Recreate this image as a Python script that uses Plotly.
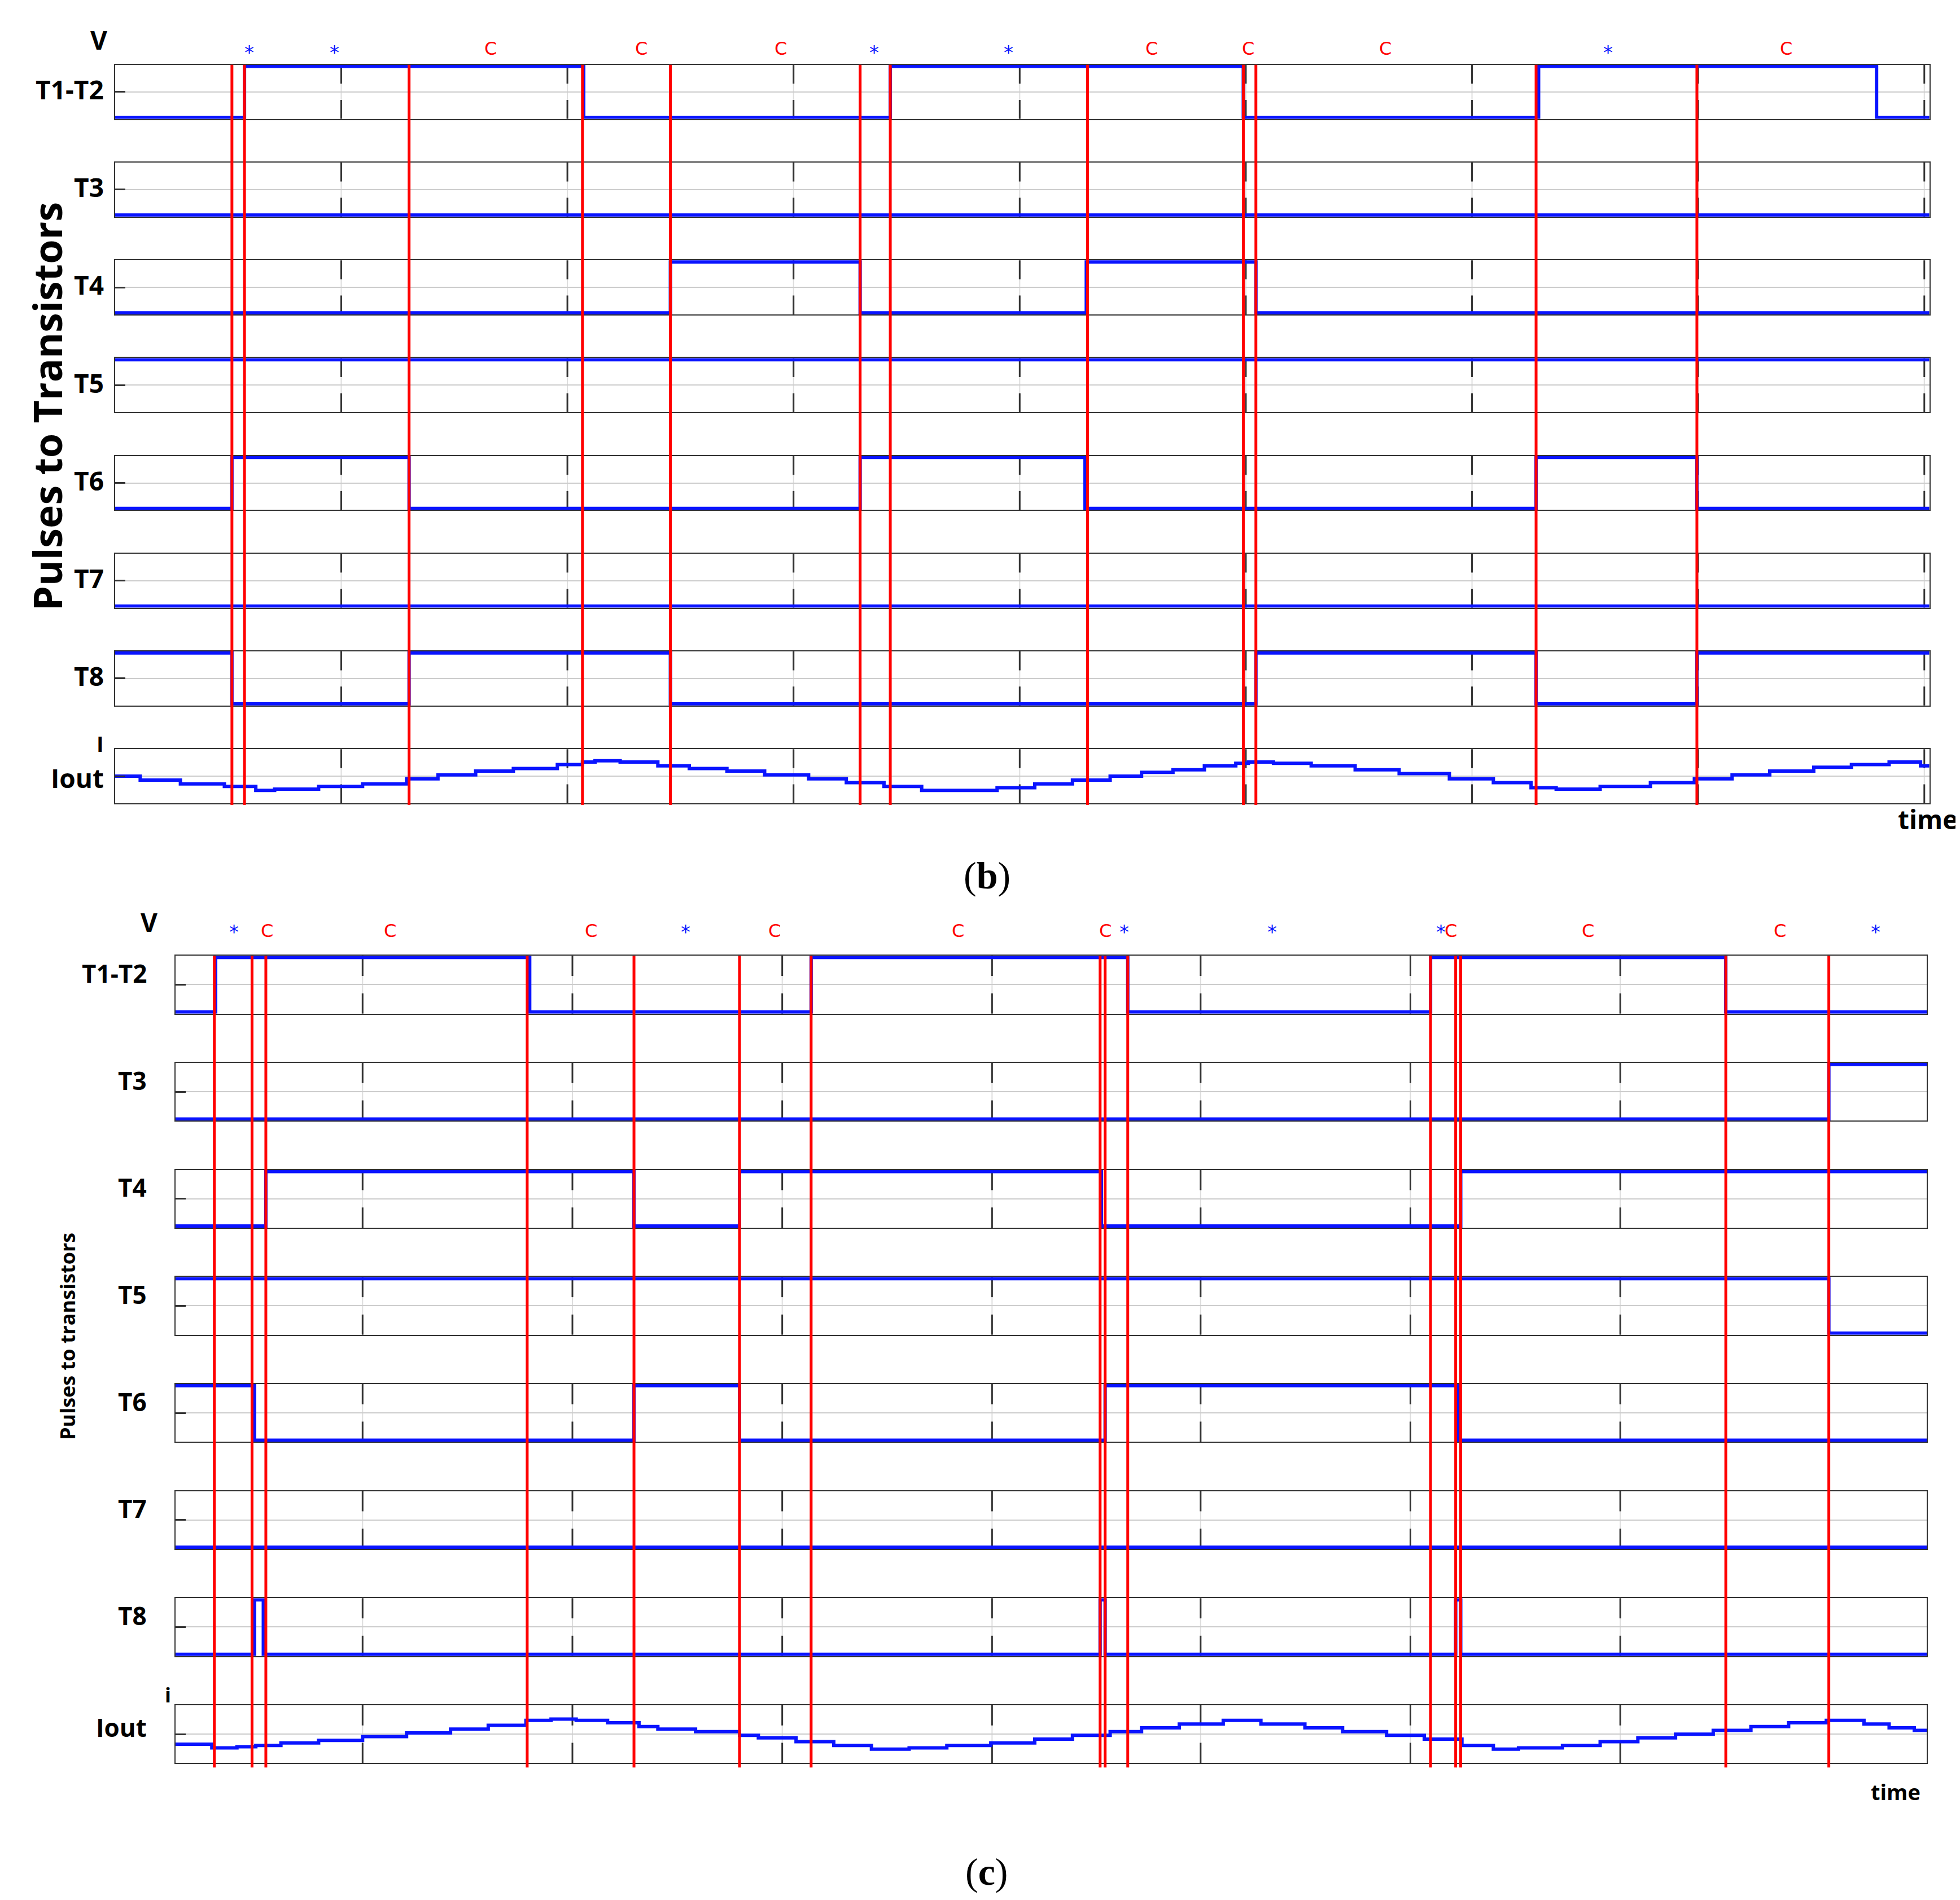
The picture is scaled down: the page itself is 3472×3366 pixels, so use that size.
import plotly.graph_objects as go

# ---- data (time in screen-like units) ----
rows = ["T1-T2", "T3", "T4", "T5", "T6", "T7", "T8"]

# panel (b)
b_start, b_end = 88, 1532
b_init = [0, 0, 0, 1, 0, 0, 1]
b_switch = [
    [191, 461, 705, 986, 1221, 1490],
    [],
    [530, 681, 861, 996],
    [],
    [181, 322, 681, 860, 1219, 1347],
    [],
    [181, 322, 530, 996, 1219, 1347],
]
b_iout_t = [88, 108, 140, 175, 200, 215, 250, 285, 320, 345, 375, 405, 440, 460, 470, 490,
            520, 545, 575, 605, 640, 670, 700, 730, 755, 790, 820, 850, 880, 905, 930, 955,
            980, 990, 1010, 1040, 1075, 1110, 1150, 1185, 1215, 1235, 1270, 1310, 1345, 1375,
            1405, 1440, 1470, 1500, 1525]
b_iout = [0, -3, -6, -8, -11, -10, -8, -6, -2, 1, 4, 6, 9, 11, 12, 11,
          8, 6, 4, 1, -2, -5, -8, -11, -11, -9, -6, -3, 0, 3, 5, 8,
          10, 11, 10, 8, 5, 2, -2, -5, -9, -10, -8, -5, -2, 1,
          4, 7, 9, 11, 8]
b_red = [181, 191, 322, 460, 530, 681, 705, 862, 986, 996, 1219, 1347]
b_grid = [268, 448, 628, 808, 988, 1168, 1348, 1528]
b_star = [190, 258, 692, 799, 1281]
b_c = [381, 501, 618, 913, 990, 1105, 1424]

# panel (c)
c_start, c_end = 136, 1530
c_init = [0, 0, 0, 1, 1, 0, 0]
c_switch = [
    [168, 418, 642, 894, 1135, 1370],
    [1452],
    [208, 501, 585, 873, 1159],
    [1452],
    [199, 501, 585, 876, 1157],
    [],
    [199, 206, 872, 876, 1155, 1159],
]
c_iout_t = [136, 165, 185, 200, 220, 250, 285, 320, 355, 385, 415, 435, 455, 480, 505, 520,
            550, 585, 600, 630, 660, 690, 720, 750, 785, 820, 850, 880, 905, 935, 970, 1000,
            1035, 1065, 1100, 1130, 1160, 1185, 1205, 1240, 1270, 1300, 1330, 1360, 1390, 1420,
            1450, 1480, 1500, 1520]
c_iout = [-8, -11, -10, -9, -7, -5, -2, 1, 4, 7, 11, 12, 11, 9, 6, 4,
          2, -1, -3, -6, -9, -12, -11, -9, -7, -4, -1, 2, 5, 8, 11, 8,
          5, 2, -1, -4, -9, -12, -11, -9, -6, -3, 0, 3, 6, 9,
          11, 8, 5, 3]
c_red = [167, 197, 208, 416, 501, 585, 642, 872, 876, 894, 1135, 1155, 1159, 1370, 1452]
c_grid = [285, 452, 619, 786, 952, 1119, 1286]
c_star = [178, 542, 891, 1009, 1148, 1494]
c_c = [203, 301, 461, 613, 759, 876, 1157, 1266, 1419]

# ---- layout helpers (reference drawn at 1560 x 1512 units) ----
W, H = 1560, 1512
def px(x): return x / W
def py(y): return 1 - y / H

BLUE = "#0a14ff"
RED = "#ff0000"

fig = go.Figure()
layout = {}
shapes = []
annotations = []

def pulse(init, sw, t0, t1):
    xs = [t0] + sw + [t1]
    ys = [init]
    v = init
    for _ in sw:
        v = 1 - v
        ys.append(v)
    ys.append(v)
    return xs, ys

def add_panel(idx0, t0, t1, top, pitch, h, init, switch, it, iv, ihalf, grid,
              labx, labfrac, labsize):
    n = idx0
    for r in range(8):
        n += 1
        xa = "x" if n == 1 else f"x{n}"
        ya = "y" if n == 1 else f"y{n}"
        ytop = top + r * pitch
        if r < 7:
            xs, ys = pulse(init[r], switch[r], t0, t1)
            yr = [-0.03, 1.03]
            tv = [0.5]
            label = rows[r]
            frac = labfrac
        else:
            xs, ys = it + [t1], iv + [iv[-1]]
            yr = [-ihalf, ihalf]
            tv = [0]
            label = "Iout"
            frac = labfrac + 0.08
        fig.add_trace(go.Scatter(x=xs, y=ys, mode="lines", line=dict(color=BLUE, width=6, shape="hv"),
                                 xaxis=xa, yaxis=ya, showlegend=False, hoverinfo="skip"))
        layout["xaxis" if n == 1 else f"xaxis{n}"] = dict(
            domain=[px(t0), px(t1)], range=[t0, t1], anchor=ya, showline=True, mirror=True,
            linecolor="#333", linewidth=2, showgrid=False, tickvals=grid, ticks="", showticklabels=False,
            zeroline=False)
        layout["yaxis" if n == 1 else f"yaxis{n}"] = dict(
            domain=[py(ytop + h), py(ytop)], range=yr, anchor=xa, showline=True, mirror=True,
            linecolor="#333", linewidth=2, tickvals=tv, showticklabels=False, ticks="inside",
            ticklen=18, tickwidth=3, tickcolor="#333", showgrid=True, gridcolor="#cccccc",
            gridwidth=2, zeroline=False)
        for g in grid:
            shapes.append(dict(type="line", xref=xa, yref="paper", x0=g, x1=g,
                               y0=py(ytop + h), y1=py(ytop), layer="below",
                               line=dict(color="#ddd", width=2)))
            for a, b in ((ytop, ytop + h * 0.35), (ytop + h * 0.65, ytop + h)):
                shapes.append(dict(type="line", xref=xa, yref="paper", x0=g, x1=g,
                                   y0=py(b), y1=py(a), layer="below",
                                   line=dict(color="#333", width=3)))
        annotations.append(dict(x=px(labx), y=py(ytop + h * frac), xref="paper", yref="paper",
                                text=f"<b>{label}</b>", showarrow=False, xanchor="right",
                                yanchor="middle",
                                font=dict(size=labsize, color="black", family="Open Sans")))
    return n

def red_lines(xa, red, y0, y1):
    for t in red:
        shapes.append(dict(type="line", xref=xa, yref="paper", x0=t, x1=t, y0=py(y1), y1=py(y0),
                           line=dict(color=RED, width=5)))

def marks(xs, txt, color, y, size):
    for t in xs:
        annotations.append(dict(x=px(t), y=py(y), xref="paper", yref="paper", text=txt,
                                showarrow=False, yanchor="middle",
                                font=dict(size=size, color=color, family="DejaVu Sans")))

add_panel(0, b_start, b_end, 48, 77.8, 43, b_init, b_switch, b_iout_t, b_iout, 21, b_grid,
          80, 0.45, 46)
add_panel(8, c_start, c_end, 757, 85.2, 46, c_init, c_switch, c_iout_t, c_iout, 23, c_grid,
          114, 0.3, 44)
red_lines("x", b_red, 48, 637)
red_lines("x9", c_red, 757, 1403)
marks(b_star, "*", BLUE, 38, 34)
marks(b_c, "C", RED, 35, 32)
marks(c_star, "*", BLUE, 738, 34)
marks(c_c, "C", RED, 737, 32)

def text(x, y, s, size, family="Open Sans", angle=0):
    annotations.append(dict(x=px(x), y=py(y), xref="paper", yref="paper", text=s, showarrow=False,
                            textangle=angle, xanchor="center", yanchor="middle",
                            font=dict(size=size, color="black", family=family)))

text(75, 28, "<b>V</b>", 46)
text(76, 588, "<b>I</b>", 38)
text(1531, 648, "<b>time</b>", 46)
text(34, 320, "<b>Pulses to Transistors</b>", 70, angle=-90)
text(782, 693, "(<b>b</b>)", 68, family="Liberation Serif")
text(115, 730, "<b>V</b>", 46)
text(130, 1345, "<b>i</b>", 36)
text(1505, 1422, "<b>time</b>", 38)
text(50, 1060, "<b>Pulses to transistors</b>", 36, angle=-90)
text(782, 1486, "(<b>c</b>)", 68, family="Liberation Serif")

fig.update_layout(width=3472, height=3366, margin=dict(l=0, r=0, t=0, b=0),
                  paper_bgcolor="white", plot_bgcolor="white",
                  shapes=shapes, annotations=annotations, **layout)
fig.write_html("out.html")
